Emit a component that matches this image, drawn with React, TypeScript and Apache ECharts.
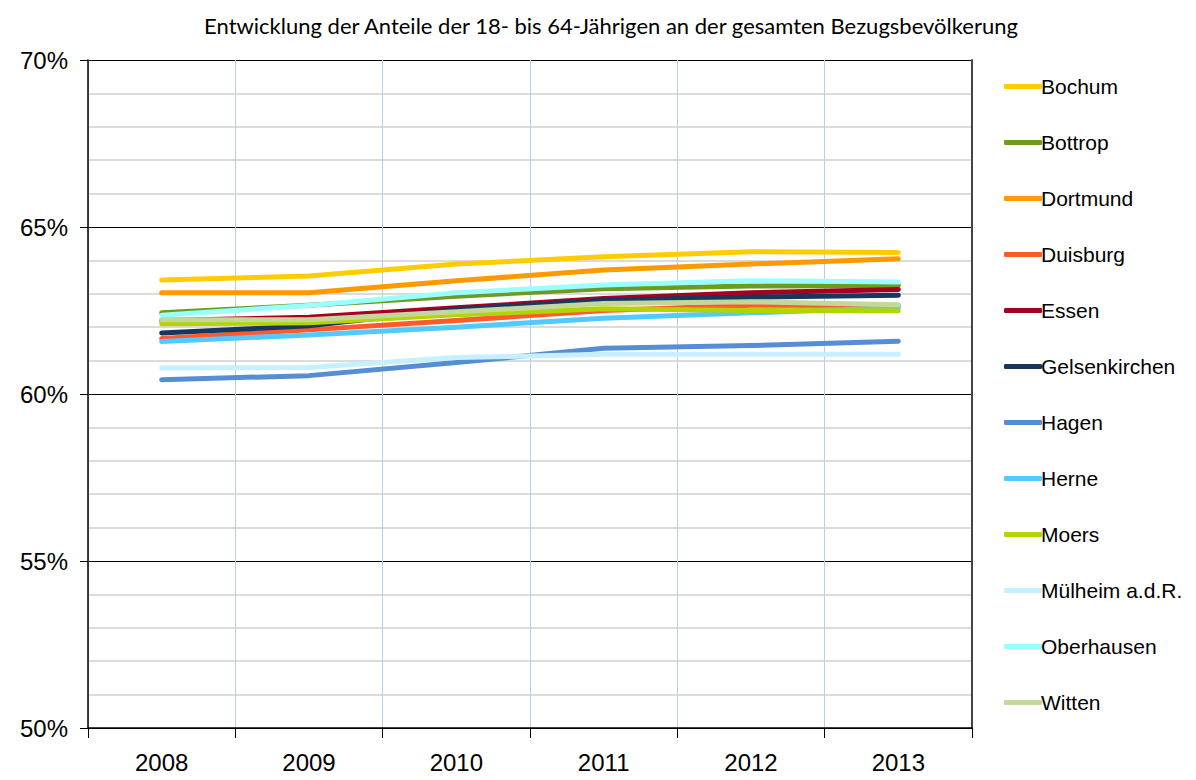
import React, { useEffect, useRef } from "react";
import * as echarts from "echarts";

const years = ["2008", "2009", "2010", "2011", "2012", "2013"];
const cities = ["Bochum", "Bottrop", "Dortmund", "Duisburg", "Essen", "Gelsenkirchen", "Hagen", "Herne", "Moers", "Mülheim a.d.R.", "Oberhausen", "Witten"];
const colors = ["#FFCC00", "#6E9A1E", "#FF9900", "#FF5A2A", "#A50021", "#17375E", "#558ED5", "#4FCBFF", "#B3D400", "#C6EFFF", "#99FFFF", "#C4D79B"];

const bochum = [63.41, 63.53, 63.89, 64.11, 64.26, 64.24];
const bottrop = [62.43, 62.66, 62.93, 63.15, 63.23, 63.25];
const dortmund = [63.03, 63.03, 63.39, 63.71, 63.89, 64.05];
const duisburg = [61.66, 61.92, 62.2, 62.5, 62.66, 62.65];
const essen = [62.2, 62.3, 62.58, 62.86, 63.03, 63.13];
const gelsenkirchen = [61.83, 62.04, 62.53, 62.81, 62.9, 62.96];
const hagen = [60.43, 60.55, 60.94, 61.37, 61.45, 61.58];
const herne = [61.57, 61.77, 62.0, 62.27, 62.43, 62.58];
const moers = [62.1, 62.13, 62.37, 62.55, 62.5, 62.49];
const muelheim = [60.78, 60.79, 61.09, 61.19, 61.19, 61.19];
const oberhausen = [62.36, 62.65, 63.03, 63.26, 63.39, 63.35];
const witten = [62.22, 62.22, 62.46, 62.71, 62.76, 62.67];

const seriesData = [bochum, bottrop, dortmund, duisburg, essen, gelsenkirchen, hagen, herne, moers, muelheim, oberhausen, witten];

const titleText = "Entwicklung der Anteile der 18- bis 64-Jährigen an der gesamten Bezugsbevölkerung";

export default function App() {
  const ref = useRef<HTMLDivElement>(null);
  useEffect(() => {
    if (!ref.current) return;
    const chart = echarts.init(ref.current, null, { renderer: "svg" });
    const axisFont = "'Liberation Sans', Arial, sans-serif";
    chart.setOption({
      animation: false,
      backgroundColor: "#ffffff",
      title: {
        text: titleText,
        left: 606,
        textAlign: "center",
        top: 9,
        textStyle: { fontFamily: "Lato, 'Open Sans', sans-serif", fontSize: 22, fontWeight: "normal", color: "#000" },
      },
      legend: {
        orient: "vertical",
        left: 999,
        top: 71,
        itemWidth: 38,
        itemHeight: 5,
        itemGap: 35,
        icon: "roundRect",
        data: cities,
        textStyle: { fontFamily: axisFont, fontSize: 21, color: "#000", lineHeight: 20, padding: [0, 0, 0, -6] },
      },
      grid: { left: 88, right: 224, top: 60, bottom: 52, containLabel: false },
      xAxis: {
        type: "category",
        data: years,
        boundaryGap: true,
        axisLine: { show: true, lineStyle: { color: "#000", width: 1.5 } },
        axisTick: { show: true, length: 10, lineStyle: { color: "#000", width: 1 } },
        splitLine: { show: true, lineStyle: { color: "#BCCBE6", width: 1 } },
        axisLabel: { fontFamily: axisFont, fontSize: 24, color: "#000", margin: 22 },
      },
      yAxis: [
        {
          type: "value",
          min: 50,
          max: 70,
          interval: 5,
          axisLine: { show: true, lineStyle: { color: "#000", width: 1.5 } },
          axisTick: { show: true, length: 8, lineStyle: { color: "#000" } },
          splitLine: { show: true, lineStyle: { color: "#000", width: 1 } },
          minorTick: { show: false, splitNumber: 5 },
          minorSplitLine: { show: true, lineStyle: { color: "#CFCFCF", width: 1.5 } },
          axisLabel: { fontFamily: axisFont, fontSize: 24, color: "#000", margin: 20, formatter: (v: number) => v + "%" },
        },
        {
          type: "value",
          min: 50,
          max: 70,
          position: "right",
          axisLine: { show: true, lineStyle: { color: "#444", width: 2 } },
          axisTick: { show: false },
          axisLabel: { show: false },
          splitLine: { show: false },
        },
      ],
      series: cities.map((name, i) => ({
        name,
        type: "line",
        data: seriesData[i],
        yAxisIndex: 0,
        symbol: "none",
        color: colors[i],
        lineStyle: { width: 5, color: colors[i], cap: "round", join: "round" },
      })),
    });
    return () => chart.dispose();
  }, []);
  return <div ref={ref} style={{ width: 1196, height: 780, position: "absolute", left: 0, top: 0 }} />;
}
